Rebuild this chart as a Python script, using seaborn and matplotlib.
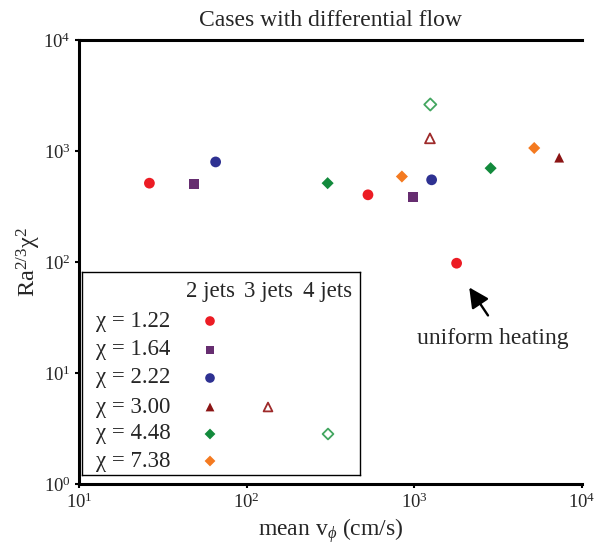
import numpy as np
import pandas as pd
import matplotlib
matplotlib.use("Agg")
import matplotlib.pyplot as plt
from matplotlib.ticker import LogLocator, LogFormatterMathtext, NullLocator
import seaborn as sns

sns.set_theme(style="white")
plt.rcParams["font.family"] = ["Liberation Serif", "DejaVu Serif"]
plt.rcParams["mathtext.fontset"] = "custom"
plt.rcParams["mathtext.rm"] = "Liberation Serif"
plt.rcParams["mathtext.it"] = "Liberation Serif:italic"
plt.rcParams["mathtext.cal"] = "Liberation Serif"

# ---------------- data ----------------
chi_labels = ["χ = 1.22", "χ = 1.64", "χ = 2.22", "χ = 3.00", "χ = 4.48", "χ = 7.38"]
jet_labels = ["2 jets", "3 jets", "4 jets"]

chi122_2jets_v = [26.3, 529, 1787]
chi122_2jets_r = [513, 403, 97.5]
chi164_2jets_v = [48.5, 985]
chi164_2jets_r = [502, 387]
chi222_2jets_v = [65.3, 1268]
chi222_2jets_r = [797, 550]
chi300_2jets_v = [7311]
chi300_2jets_r = [871]
chi300_3jets_v = [1239]
chi300_3jets_r = [1300]
chi448_2jets_v = [304, 2851]
chi448_2jets_r = [513, 700]
chi448_4jets_v = [1245]
chi448_4jets_r = [2624]
chi738_2jets_v = [843, 5188]
chi738_2jets_r = [589, 1064]

series = [
    ("χ = 1.22", "2 jets", chi122_2jets_v, chi122_2jets_r),
    ("χ = 1.64", "2 jets", chi164_2jets_v, chi164_2jets_r),
    ("χ = 2.22", "2 jets", chi222_2jets_v, chi222_2jets_r),
    ("χ = 3.00", "2 jets", chi300_2jets_v, chi300_2jets_r),
    ("χ = 3.00", "3 jets", chi300_3jets_v, chi300_3jets_r),
    ("χ = 4.48", "2 jets", chi448_2jets_v, chi448_2jets_r),
    ("χ = 4.48", "4 jets", chi448_4jets_v, chi448_4jets_r),
    ("χ = 7.38", "2 jets", chi738_2jets_v, chi738_2jets_r),
]
rows = []
for chi, jets, vs, rs in series:
    for v, r in zip(vs, rs):
        rows.append({"chi": chi, "jets": jets, "v": v, "r": r})
df = pd.DataFrame(rows)

# ---------------- styles ----------------
chi_color = {
    "χ = 1.22": "#ec1c24",
    "χ = 1.64": "#662d70",
    "χ = 2.22": "#2e3192",
    "χ = 3.00": "#8b1414",
    "χ = 4.48": "#128a3c",
    "χ = 7.38": "#f47a20",
}
open_color = {"χ = 3.00": "#9e2a2a", "χ = 4.48": "#43a660"}
chi_marker = {
    "χ = 1.22": "o",
    "χ = 1.64": "s",
    "χ = 2.22": "o",
    "χ = 3.00": "^",
    "χ = 4.48": "D",
    "χ = 7.38": "D",
}
chi_size = {"o": 60, "s": 48, "^": 50, "D": 38}

W, H = 598, 544
fig = plt.figure(figsize=(W / 100, H / 100), dpi=100)
L, R, T, B = 79, 582, 40, 484
ax = fig.add_axes([L / W, 1 - B / H, (R - L) / W, (B - T) / H])

for (chi, jets), sub in df.groupby(["chi", "jets"], sort=False):
    m = chi_marker[chi]
    if jets == "2 jets":
        sns.scatterplot(data=sub, x="v", y="r", ax=ax, marker=m, s=chi_size[m],
                        color=chi_color[chi], edgecolor="none", linewidth=0, legend=False)
    else:
        sns.scatterplot(data=sub, x="v", y="r", ax=ax, marker=m, s=chi_size[m],
                        facecolor="none", edgecolor=open_color[chi], linewidth=1.3,
                        legend=False)

ax.set_xscale("log")
ax.set_yscale("log")
ax.set_xlim(10, 1e4)
ax.set_ylim(1, 1e4)
ax.xaxis.set_major_locator(LogLocator(base=10, numticks=10))
ax.yaxis.set_major_locator(LogLocator(base=10, numticks=10))
ax.xaxis.set_minor_locator(NullLocator())
ax.yaxis.set_minor_locator(NullLocator())
ax.xaxis.set_major_formatter(LogFormatterMathtext())
ax.yaxis.set_major_formatter(LogFormatterMathtext())
ax.tick_params(axis="both", which="major", labelsize=13.5, direction="out",
               length=3, width=1.5, color="black", pad=3, bottom=True, left=True)

for s in ["top", "left", "bottom"]:
    ax.spines[s].set_visible(True)
    ax.spines[s].set_linewidth(2.2)
    ax.spines[s].set_color("black")
ax.spines["right"].set_visible(False)
ax.grid(False)

ax.set_title("Cases with differential flow", fontsize=17, pad=10)
ax.set_xlabel("mean v$_{\\phi}$ (cm/s)", fontsize=17, labelpad=3)
ax.set_ylabel("Ra$^{2/3}$χ$^{2}$", fontsize=17.5, labelpad=0)

# annotation
ax.annotate("", xy=(2125, 59), xytext=(2750, 33),
            arrowprops=dict(arrowstyle="-|>,head_length=1.0,head_width=0.5",
                            color="black", lw=1.7, shrinkA=0, shrinkB=0))
ax.text(2950, 20.5, "uniform heating", fontsize=17, ha="center", va="center")

# ---------------- legend table ----------------
lx0, ly0, lx1, ly1 = 82, 272, 360, 475
lax = fig.add_axes([lx0 / W, 1 - ly1 / H, (lx1 - lx0) / W, (ly1 - ly0) / H])
lax.set_xlim(0, lx1 - lx0)
lax.set_ylim(ly1 - ly0, 0)
lax.set_xticks([])
lax.set_yticks([])
lax.set_facecolor("white")
for s in lax.spines.values():
    s.set_visible(True)
    s.set_linewidth(1.0)
    s.set_color("black")

col_x = [128, 186, 246]
row_y = [49, 78, 106, 135, 162, 189]
for j, lab in enumerate(jet_labels):
    lax.text(col_x[j], 19, lab, fontsize=16.5, ha="center", va="center")
for i, lab in enumerate(chi_labels):
    lax.text(14, row_y[i], lab, fontsize=16.5, ha="left", va="center")
    m = chi_marker[lab]
    lax.scatter([col_x[0]], [row_y[i]], marker=m, s=chi_size[m] * 0.8,
                color=chi_color[lab], edgecolor="none")
lax.scatter([col_x[1]], [row_y[3]], marker="^", s=chi_size["^"] * 0.8,
            facecolor="none", edgecolor=open_color["χ = 3.00"], linewidth=1.3)
lax.scatter([col_x[2]], [row_y[4]], marker="D", s=chi_size["D"] * 0.8,
            facecolor="none", edgecolor=open_color["χ = 4.48"], linewidth=1.3)

fig.savefig("out.png", dpi=100, facecolor="white")
